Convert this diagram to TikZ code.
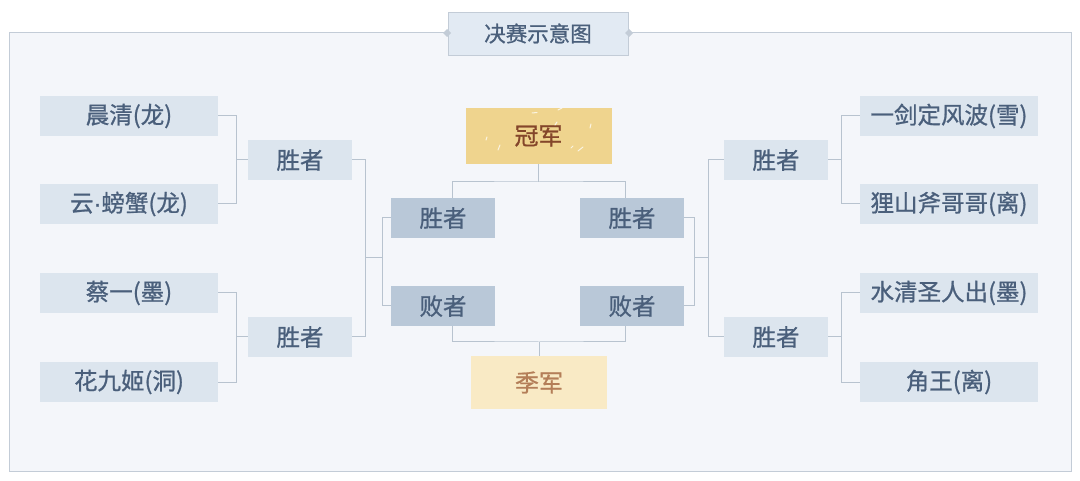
\documentclass[tikz,border=0pt]{standalone}
\usepackage{fontspec}
\setmainfont{Noto Sans CJK SC}[FakeBold=0.9]
\newfontfamily\dotfont{Liberation Sans}[FakeBold=0.9]
\usetikzlibrary{calc}
\definecolor{framefill}{HTML}{F4F6FA}
\definecolor{frameline}{HTML}{C3CCD7}
\definecolor{wire}{HTML}{B8C3CF}
\definecolor{playerfill}{HTML}{DCE5EE}
\definecolor{midfill}{HTML}{B9C8D8}
\definecolor{txt}{HTML}{4A5F7B}
\definecolor{champfill}{HTML}{EFD48E}
\definecolor{champtxt}{HTML}{84462A}
\definecolor{thirdfill}{HTML}{F9EAC5}
\definecolor{thirdtxt}{HTML}{B47E58}
\definecolor{titlefill}{HTML}{E2EAF3}
\tikzset{
  box/.style={rectangle, inner sep=0pt, text=txt, font=\fontsize{23.5}{26}\selectfont},
  player/.style={box, fill=playerfill, minimum width=178pt, minimum height=40pt},
  winner/.style={box, fill=playerfill, minimum width=104pt, minimum height=40pt},
  midbox/.style={box, fill=midfill, minimum width=104pt, minimum height=40pt},
  champbox/.style={box, fill=champfill, text=champtxt, minimum width=146pt, minimum height=56pt, font=\fontsize{24}{26}\selectfont},
  thirdbox/.style={box, fill=thirdfill, text=thirdtxt, minimum width=136pt, minimum height=53pt, font=\fontsize{24}{26}\selectfont},
  titlebox/.style={box, fill=titlefill, draw=frameline, line width=0.8pt, minimum width=180pt, minimum height=43pt, font=\fontsize{21.5}{24}\selectfont},
  wireline/.style={draw=wire, line width=1pt},
  sparkle/.style={draw=white, line width=1pt, opacity=0.75, line cap=round}
}
\begin{document}
\begin{tikzpicture}[x=1pt,y=-1pt]
\useasboundingbox (0,0) rectangle (1080,481);
% frame
\draw[fill=framefill, draw=frameline, line width=1pt] (9,33) rectangle (1071,471);
% title
\node[titlebox] (title) at (538,33.5) {决赛示意图};
\fill[frameline] (447,29) -- (451,33) -- (447,37) -- (443,33) -- cycle;
\fill[frameline] (629,29) -- (633,33) -- (629,37) -- (625,33) -- cycle;
% left players
\node[player] (lp1) at (129,116) {晨清(龙)};
\node[player] (lp2) at (129,204) {云{\dotfont\textperiodcentered}螃蟹(龙)};
\node[player] (lp3) at (129,293) {蔡一(墨)};
\node[player] (lp4) at (129,382) {花九姬(洞)};
% right players
\node[player] (rp1) at (949,116) {一剑定风波(雪)};
\node[player] (rp2) at (949,204) {狸山斧哥哥(离)};
\node[player] (rp3) at (949,293) {水清圣人出(墨)};
\node[player] (rp4) at (949,382) {角王(离)};
% winners
\node[winner] (lw1) at (300,160) {胜者};
\node[winner] (lw2) at (300,337) {胜者};
\node[winner] (rw1) at (776,160) {胜者};
\node[winner] (rw2) at (776,337) {胜者};
% middle
\node[midbox] (mlw) at (443,218) {胜者};
\node[midbox] (mll) at (443,306) {败者};
\node[midbox] (mrw) at (632,218) {胜者};
\node[midbox] (mrl) at (632,306) {败者};
% champion & third
\node[champbox] (champ) at (538.5,136) {冠军};
\node[thirdbox] (third) at (539,382.5) {季军};
% sparkles
\draw[sparkle] (558,110) -- (562,108);
\draw[sparkle] (532,113) -- (537,112.5);
\draw[sparkle] (555,125) -- (557,122);
\draw[sparkle] (498,150) -- (500,145);
\draw[sparkle] (578,151) -- (583,147);
\draw[sparkle] (571,148) -- (573,146);
\draw[sparkle] (590,128) -- (591,124);
\draw[sparkle] (486,140) -- (487,137);
% left bracket wires
\draw[wireline] (lp1.east) -- ++(18,0) |- (lw1.west);
\draw[wireline] (lp2.east) -- ++(18,0) |- (lw1.west);
\draw[wireline] (lp3.east) -- ++(18,0) |- (lw2.west);
\draw[wireline] (lp4.east) -- ++(18,0) |- (lw2.west);
\draw[wireline] (lw1.east) -- ++(13,0) |- (lw2.east);
\draw[wireline] (mlw.west) -- ++(-8,0) |- (mll.west);
\coordinate (lj1) at (365,258);
\coordinate (lj2) at (383,258);
\draw[wireline] (lj1) -- (lj2);
% right bracket wires
\draw[wireline] (rp1.west) -- ++(-18,0) |- (rw1.east);
\draw[wireline] (rp2.west) -- ++(-18,0) |- (rw1.east);
\draw[wireline] (rp3.west) -- ++(-18,0) |- (rw2.east);
\draw[wireline] (rp4.west) -- ++(-18,0) |- (rw2.east);
\draw[wireline] (rw1.west) -- ++(-15,0) |- (rw2.west);
\draw[wireline] (mrw.east) -- ++(10,0) |- (mrl.east);
\coordinate (rj1) at (694,258);
\coordinate (rj2) at (709,258);
\draw[wireline] (rj1) -- (rj2);
% champion wires
\coordinate (ct) at (538.5,182);
\draw[wireline] (champ.south) -- (ct);
\draw[wireline] ($(mlw.north)+(9,0)$) |- (ct) -| ($(mrw.north)+(-7,0)$);
% third place wires
\coordinate (cb) at (539,342);
\draw[wireline] ($(mll.south)+(9,0)$) |- (cb) -| ($(mrl.south)+(-7,0)$);
\draw[wireline] (cb) -- (third.north);
\end{tikzpicture}
\end{document}
